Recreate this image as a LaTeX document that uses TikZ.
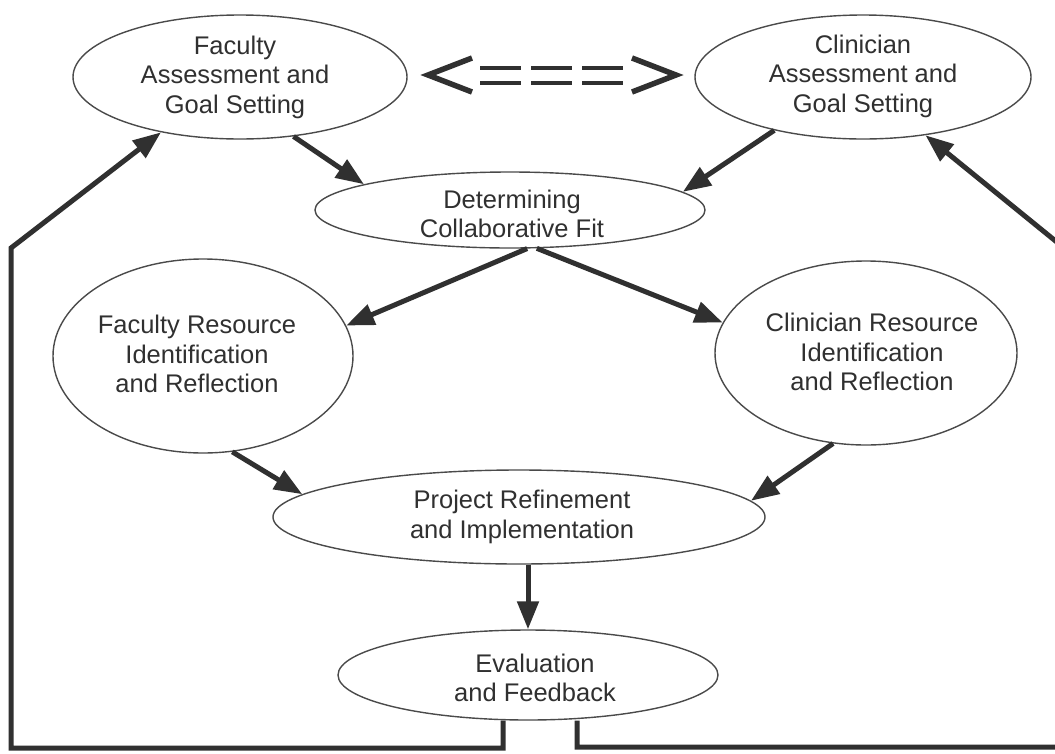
\documentclass[tikz,border=0pt]{standalone}
\usepackage{fontspec}
\setmainfont{Liberation Sans}
\usetikzlibrary{shapes.geometric,arrows.meta}
\definecolor{ink}{HTML}{303030}
\definecolor{edgec}{HTML}{4a4a4a}
\begin{document}
\begin{tikzpicture}[x=1pt,y=-1pt,
  oval/.style={ellipse, draw=edgec, line width=1.4pt, inner sep=0pt},
  lbl/.style={align=center, text=ink, font=\fontsize{25.5}{29.5}\selectfont, inner sep=0pt},
  arr/.style={draw=ink, line width=5pt, -{Triangle[length=28pt,width=21pt]}},
  fb/.style={arr, line join=miter},
  chev/.style={draw=ink, line width=5.5pt, line join=miter},
  dashl/.style={draw=ink, line width=4pt, dash pattern=on 41pt off 10pt}
]
\useasboundingbox (0,0) rectangle (1055,753);
\clip (0,0) rectangle (1055,753);
\fill[white] (0,0) rectangle (1055,753);

% nodes
\node[oval, minimum width=334pt, minimum height=124pt] (fa) at (240,77) {};
\node[lbl] (fat) at (235,77) {Faculty\\Assessment and\\Goal Setting};
\node[oval, minimum width=336pt, minimum height=124pt] (ca) at (863,77) {};
\node[lbl] (cat) at (863,76) {Clinician\\Assessment and\\Goal Setting};
\node[oval, minimum width=390pt, minimum height=76pt] (det) at (510,210) {};
\node[lbl] (dett) at (512,214) {Determining\\Collaborative Fit};
\node[oval, minimum width=300pt, minimum height=194pt] (fr) at (203,356) {};
\node[lbl] (frt) at (197,354) {Faculty Resource\\Identification\\and Reflection};
\node[oval, minimum width=302pt, minimum height=184pt] (cr) at (866,353) {};
\node[lbl] (crt) at (872,352) {Clinician Resource\\Identification\\and Reflection};
\node[oval, minimum width=492pt, minimum height=94pt] (pr) at (519,517) {};
\node[lbl] (prt) at (522,517) {Project Refinement\\and Implementation};
\node[oval, minimum width=380pt, minimum height=90pt] (ev) at (528,675) {};
\node[lbl] (evt) at (535,678) {Evaluation\\and Feedback};

% double arrow between the two assessment nodes
\coordinate (c1a) at (472,58); \coordinate (c1b) at (428,75); \coordinate (c1c) at (472,92);
\coordinate (c2a) at (632,58); \coordinate (c2b) at (676,75); \coordinate (c2c) at (632,92);
\coordinate (d1a) at (480,68); \coordinate (d1b) at (623,68);
\coordinate (d2a) at (480,83); \coordinate (d2b) at (623,83);
\draw[chev] (c1a) -- (c1b) -- (c1c);
\draw[chev] (c2a) -- (c2b) -- (c2c);
\draw[dashl] (d1a) -- (d1b);
\draw[dashl] (d2a) -- (d2b);

% arrows
\draw[arr] (fa.-48.6) -- (det.170);
\draw[arr] (ca.-149) -- (det.6.4);
\draw[arr] (det.-66) -- (fr.12.3);
\draw[arr] (det.-55) -- (cr.168.2);
\draw[arr] (fr.-73) -- (pr.174.4);
\draw[arr] (cr.-110) -- (pr.4);
\draw[arr] (ev.north |- pr.south) -- (ev.north);

% feedback loops
\coordinate (lb) at (11,748);
\coordinate (lt) at (11,248);
\coordinate (rb) at (1058,747);
\coordinate (rt) at (1058,243);
\draw[fb] ([xshift=-25pt]ev.south) -- ([xshift=-25pt]ev.south |- lb) -- (lb) -- (lt) -- (fa.-145);
\draw[fb] ([xshift=49pt]ev.south) -- ([xshift=49pt]ev.south |- rb) -- (rb) -- (rt) -- (ca.-43);
\end{tikzpicture}
\end{document}
